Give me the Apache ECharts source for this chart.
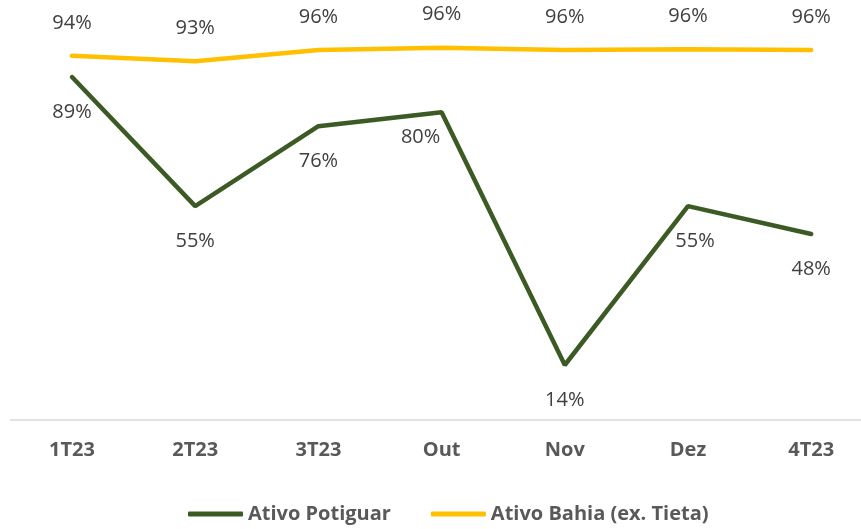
<!DOCTYPE html>
<html>
<head>
<meta charset="utf-8">
<script src="https://cdn.jsdelivr.net/npm/echarts@6/dist/echarts.min.js"></script>
<style>
html, body { margin: 0; padding: 0; background: #fff; }
#chart { width: 861px; height: 529px; }
</style>
</head>
<body>
<div id="chart"></div>
<script>
var categories = ['1T23', '2T23', '3T23', 'Out', 'Nov', 'Dez', '4T23'];
var potiguar = [88.6, 55.2, 75.9, 79.5, 14.1, 55.2, 48.0];
var bahia = [94.1, 92.7, 95.6, 96.2, 95.6, 95.8, 95.6];

var font = '"Open Sans", "Liberation Sans", sans-serif';

function pct(p) { return Math.round(p.value) + '%'; }

// a couple of labels sit off-centre in the original
var potiguarData = potiguar.map(function (v, i) {
	if (i === 3) {
		return { value: v, label: { offset: [-21, -10] } };
	}
	if (i === 5) {
		return { value: v, label: { offset: [7, 0] } };
	}
	return v;
});

var chart = echarts.init(document.getElementById('chart'));
chart.setOption({
	animation: false,
	grid: { left: 10.4, right: -11.8, top: 33, bottom: 109.5, containLabel: false, outerBoundsMode: 'none' },
	legend: {
		bottom: 0,
		left: 183,
		itemWidth: 55,
		itemHeight: 5,
		itemGap: 40,
		icon: 'roundRect',
		textStyle: { fontFamily: font, fontSize: 20, fontWeight: 'bold', color: '#595959' },
		data: ['Ativo Potiguar', 'Ativo Bahia (ex. Tieta)']
	},
	xAxis: {
		type: 'category',
		data: categories,
		boundaryGap: true,
		axisLine: { lineStyle: { color: '#d9d9d9', width: 1.5 } },
		axisTick: { show: false },
		axisLabel: { margin: 21, fontFamily: font, fontSize: 20, fontWeight: 'bold', color: '#595959' }
	},
	yAxis: {
		type: 'value',
		min: 0,
		max: 100,
		show: false,
		splitLine: { show: false }
	},
	series: [
		{
			name: 'Ativo Potiguar',
			type: 'line',
			data: potiguarData,
			symbol: 'circle',
			symbolSize: 0,
			itemStyle: { color: '#3b5a24' },
			lineStyle: { color: '#3b5a24', width: 4.5, cap: 'round' },
			label: {
				show: true,
				position: 'bottom',
				distance: 25,
				formatter: pct,
				fontFamily: font,
				fontSize: 20,
				color: '#404040'
			}
		},
		{
			name: 'Ativo Bahia (ex. Tieta)',
			type: 'line',
			data: bahia,
			symbol: 'circle',
			symbolSize: 0,
			itemStyle: { color: '#ffc000' },
			lineStyle: { color: '#ffc000', width: 4.5, cap: 'round' },
			label: {
				show: true,
				position: 'top',
				distance: 23,
				formatter: pct,
				fontFamily: font,
				fontSize: 20,
				color: '#404040'
			}
		}
	]
});
</script>
</body>
</html>
